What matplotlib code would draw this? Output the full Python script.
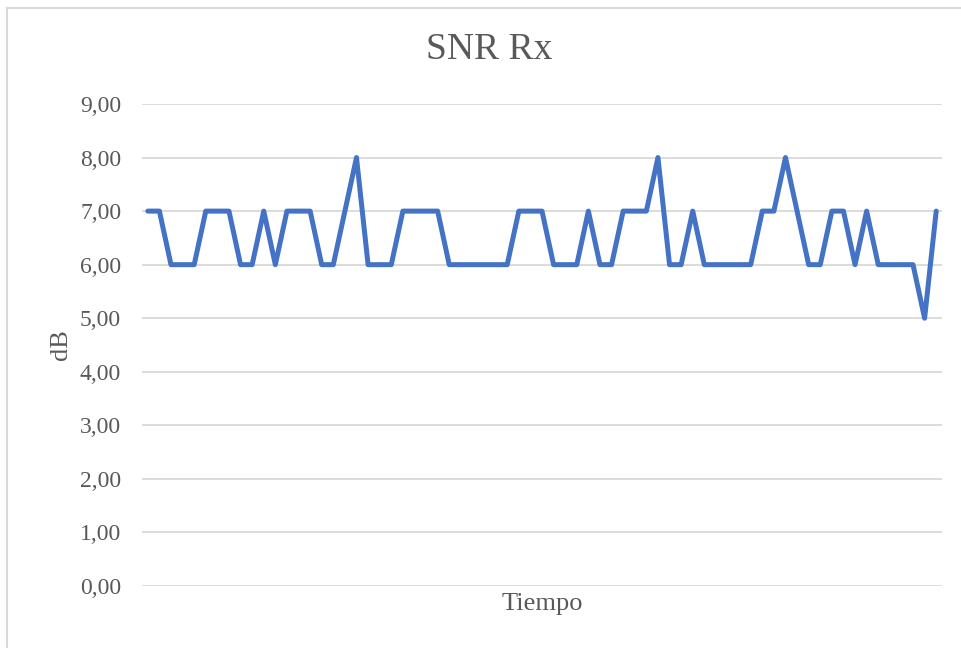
import matplotlib
matplotlib.use("Agg")
import matplotlib.pyplot as plt
from matplotlib.lines import Line2D

# SNR medido en cada muestra (dB)
snr = [7, 7, 6, 6, 6, 7, 7, 7, 6, 6, 7, 6, 7, 7, 7, 6, 6, 7, 8, 6,
       6, 6, 7, 7, 7, 7, 6, 6, 6, 6, 6, 6, 7, 7, 7, 6, 6, 6, 7, 6,
       6, 7, 7, 7, 8, 6, 6, 7, 6, 6, 6, 6, 6, 7, 7, 8, 7, 6, 6, 7,
       7, 6, 7, 6, 6, 6, 6, 5, 7]
samples = list(range(len(snr)))
y_ticks = list(range(0, 10))

TXT = "#595959"
FONT = "Liberation Serif"

fig = plt.figure(figsize=(9.62, 6.48), dpi=100, facecolor="white")
ax = fig.add_axes([142 / 962, 1 - 586 / 648, 800 / 962, 482 / 648])

ax.plot(samples, snr, color="#4472C4", lw=3.6,
        solid_capstyle="round", solid_joinstyle="round", zorder=3)

ax.set_xlim(-0.5, len(snr) - 0.5)
ax.set_ylim(0, 9)
ax.set_yticks(y_ticks)
ax.set_yticklabels([f"{v:.2f}".replace(".", ",") for v in y_ticks],
                   fontfamily=FONT, fontsize=17, color=TXT)
ax.set_xticks([])
ax.tick_params(axis="y", length=0, pad=15)
ax.grid(axis="y", color="#D9D9D9", lw=1.3)
ax.set_axisbelow(True)
for s in ax.spines.values():
    s.set_visible(False)

ax.set_xlabel("Tiempo", fontfamily=FONT, fontsize=19, color=TXT, labelpad=5)
ax.set_ylabel("dB", fontfamily=FONT, fontsize=19, color=TXT, labelpad=6)
fig.text(489 / 962, 1 - 50 / 648, "SNR Rx", fontfamily=FONT, fontsize=27,
         color=TXT, ha="center", va="center")

# marco del grafico (solo borde superior e izquierdo, el resto queda recortado)
x0, y0 = 7.5 / 962, 1 - 8 / 648
fig.add_artist(Line2D([x0, 1.0], [y0, y0], transform=fig.transFigure,
                      color="#D9D9D9", lw=1.5))
fig.add_artist(Line2D([x0, x0], [0.0, y0], transform=fig.transFigure,
                      color="#D9D9D9", lw=1.5))

fig.savefig("out.png", dpi=100, facecolor="white")
